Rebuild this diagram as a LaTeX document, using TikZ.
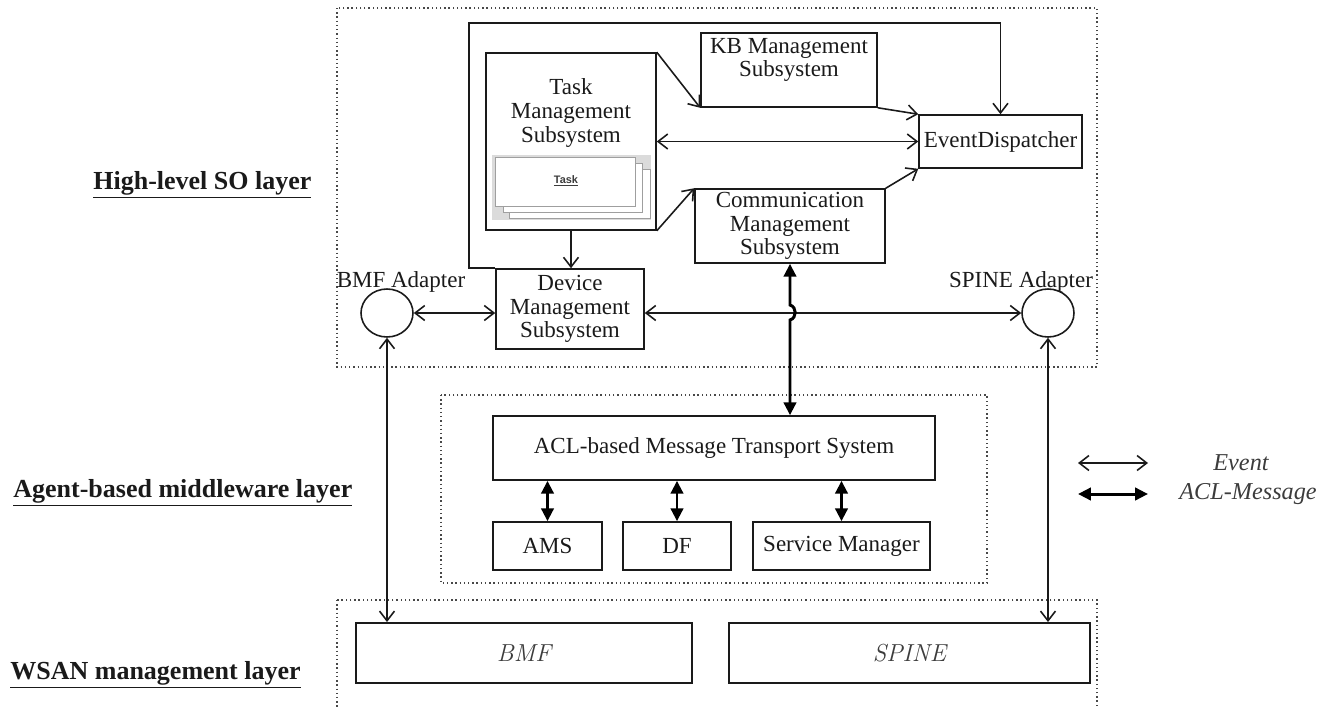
\documentclass[tikz,border=0pt]{standalone}
\usepackage{fontspec}
\newfontfamily\tnr{Liberation Serif}
\newfontfamily\lsans{Liberation Sans}
\usetikzlibrary{arrows.meta,shapes.geometric}
\definecolor{ink}{HTML}{1A1A1A}
\definecolor{soft}{HTML}{3C3C3C}
\begin{document}
\begin{tikzpicture}[x=0.02cm,y=-0.02cm,
  txtfont/.style={font=\tnr\fontsize{13.1}{13.4}\selectfont},
  box/.style={draw=ink, line width=0.9pt, inner sep=0pt, align=center, text=ink, txtfont},
  lbl/.style={inner sep=0pt, align=center, text=ink, txtfont},
  adapter/.style={draw=ink, line width=0.9pt, ellipse, inner sep=0pt, minimum width=1.04cm, minimum height=0.96cm},
  layer/.style={inner sep=0pt, anchor=west, text=ink, font=\tnr\bfseries\fontsize{14.8}{16}\selectfont},
  legendtxt/.style={inner sep=0pt, text=soft, font=\tnr\itshape\fontsize{13.8}{15}\selectfont},
  wsanbox/.style={draw=ink, line width=1.1pt, inner sep=0pt, text=soft, font=\itshape\fontsize{14}{15}\selectfont},
  dotbox/.style={draw=ink!80, line width=0.7pt, dash pattern=on 0.8pt off 1.6pt},
  card/.style={draw=gray!75, line width=0.5pt, fill=white},
  evt/.style={draw=ink, line width=0.9pt, {Straight Barb[length=5.5pt,width=8.5pt]}-{Straight Barb[length=5.5pt,width=8.5pt]}},
  evtend/.style={draw=ink, line width=0.9pt, -{Straight Barb[length=5.5pt,width=8.5pt]}},
  aclarr/.style={draw=black, line width=1.7pt, {Triangle[length=7.3pt,width=7pt]}-{Triangle[length=7.3pt,width=7pt]}}
]
\useasboundingbox (0,0) rectangle (1333,707);

% layer labels
\node[layer] (lhigh) at (93,185) {\underline{High-level SO layer}};
\node[layer] (lmid) at (13,493) {\underline{Agent-based middleware layer}};
\node[layer] (lwsan) at (10,675) {\underline{WSAN management layer}};

% dotted layer frames
\draw[dotbox] (337,8) rectangle (1097,367);
\draw[dotbox] (441,395) rectangle (987,583);
\draw[dotbox] (337,600) rectangle (1097,720);

% high-level boxes
\node[box, minimum width=3.4cm, minimum height=3.54cm] (task) at (571,141.5) {};
\node[lbl] (taskl) at (571,113) {Task\\Management\\Subsystem};
\fill[gray!28] (492,155) rectangle (651,220);
\draw[card] (509,169) rectangle (650,218);
\draw[card] (503,163) rectangle (642,212);
\draw[card] (495,157) rectangle (635,206);
\node[inner sep=0pt, text=ink!85, font=\lsans\bfseries\fontsize{6.2}{7}\selectfont] (taskcard) at (566,181) {\underline{Task}};

\node[box, minimum width=3.52cm, minimum height=1.48cm] (kb) at (789,70) {};
\node[lbl] (kbl) at (789,60) {KB Management\\Subsystem};
\node[box, minimum width=3.8cm, minimum height=1.48cm] (comm) at (790,226) {Communication\\Management\\Subsystem};
\node[box, minimum width=3.26cm, minimum height=1.06cm] (ed) at (1000.5,141.5) {EventDispatcher};
\node[box, minimum width=2.96cm, minimum height=1.6cm] (dev) at (570,309) {Device\\Management\\Subsystem};

\node[adapter] (bmfa) at (387,313) {};
\node[lbl] (bmfal) at (401,282) {BMF Adapter};
\node[adapter] (spa) at (1048,313) {};
\node[lbl] (spal) at (1021,282) {SPINE Adapter};

% middleware boxes
\node[box, minimum width=8.84cm, minimum height=1.28cm] (acl) at (714,448) {ACL-based Message Transport System};
\node[box, minimum width=2.18cm, minimum height=0.96cm] (ams) at (547.5,546) {AMS};
\node[box, minimum width=2.16cm, minimum height=0.96cm] (df) at (677,546) {DF};
\node[box, minimum width=3.54cm, minimum height=0.96cm] (sm) at (841.5,546) {Service Manager};

% WSAN boxes
\node[wsanbox, minimum width=6.72cm, minimum height=1.2cm] (bmf) at (524,653) {BMF};
\node[wsanbox, minimum width=7.22cm, minimum height=1.2cm] (spine) at (909.5,653) {SPINE};

% event connectors
\coordinate (frameTL) at (469,23);
\draw[evtend] (dev.north west) -| (frameTL) -| (ed.north);
\draw[evtend] (task.north east) -- (kb.south west);
\draw[evtend] (kb.south east) -- (ed.north west);
\draw[evt] (task.east) -- (ed.west);
\draw[evtend] (task.south east) -- (comm.north west);
\draw[evtend] (comm.north east) -- (ed.south west);
\draw[evtend] (task.south) -- (task.south |- dev.north);
\draw[evt] (bmfa.east) -- (bmfa.east -| dev.west);
\draw[evt] (spa.west -| dev.east) -- (spa.west);
\draw[evt] (bmfa.south) -- (bmfa.south |- bmf.north);
\draw[evt] (spa.south) -- (spa.south |- spine.north);

% ACL message connectors
\coordinate (j1) at (790,305);
\coordinate (j2) at (790,320);
\draw[aclarr] (comm.south) -- (j1) .. controls (797,307) and (797,318) .. (j2) -- (comm.south |- acl.north);
\draw[aclarr] (ams.north |- acl.south) -- (ams.north);
\draw[aclarr] (df.north |- acl.south) -- (df.north);
\draw[aclarr] (sm.north |- acl.south) -- (sm.north);

% legend
\coordinate (le1) at (1078,463);
\coordinate (le2) at (1148,463);
\coordinate (la1) at (1078,494);
\coordinate (la2) at (1148,494);
\draw[evt] (le1) -- (le2);
\draw[aclarr] (la1) -- (la2);
\node[legendtxt] (legevt) at (1241,463) {Event};
\node[legendtxt] (legacl) at (1248,494) {ACL-Message};
\end{tikzpicture}
\end{document}
